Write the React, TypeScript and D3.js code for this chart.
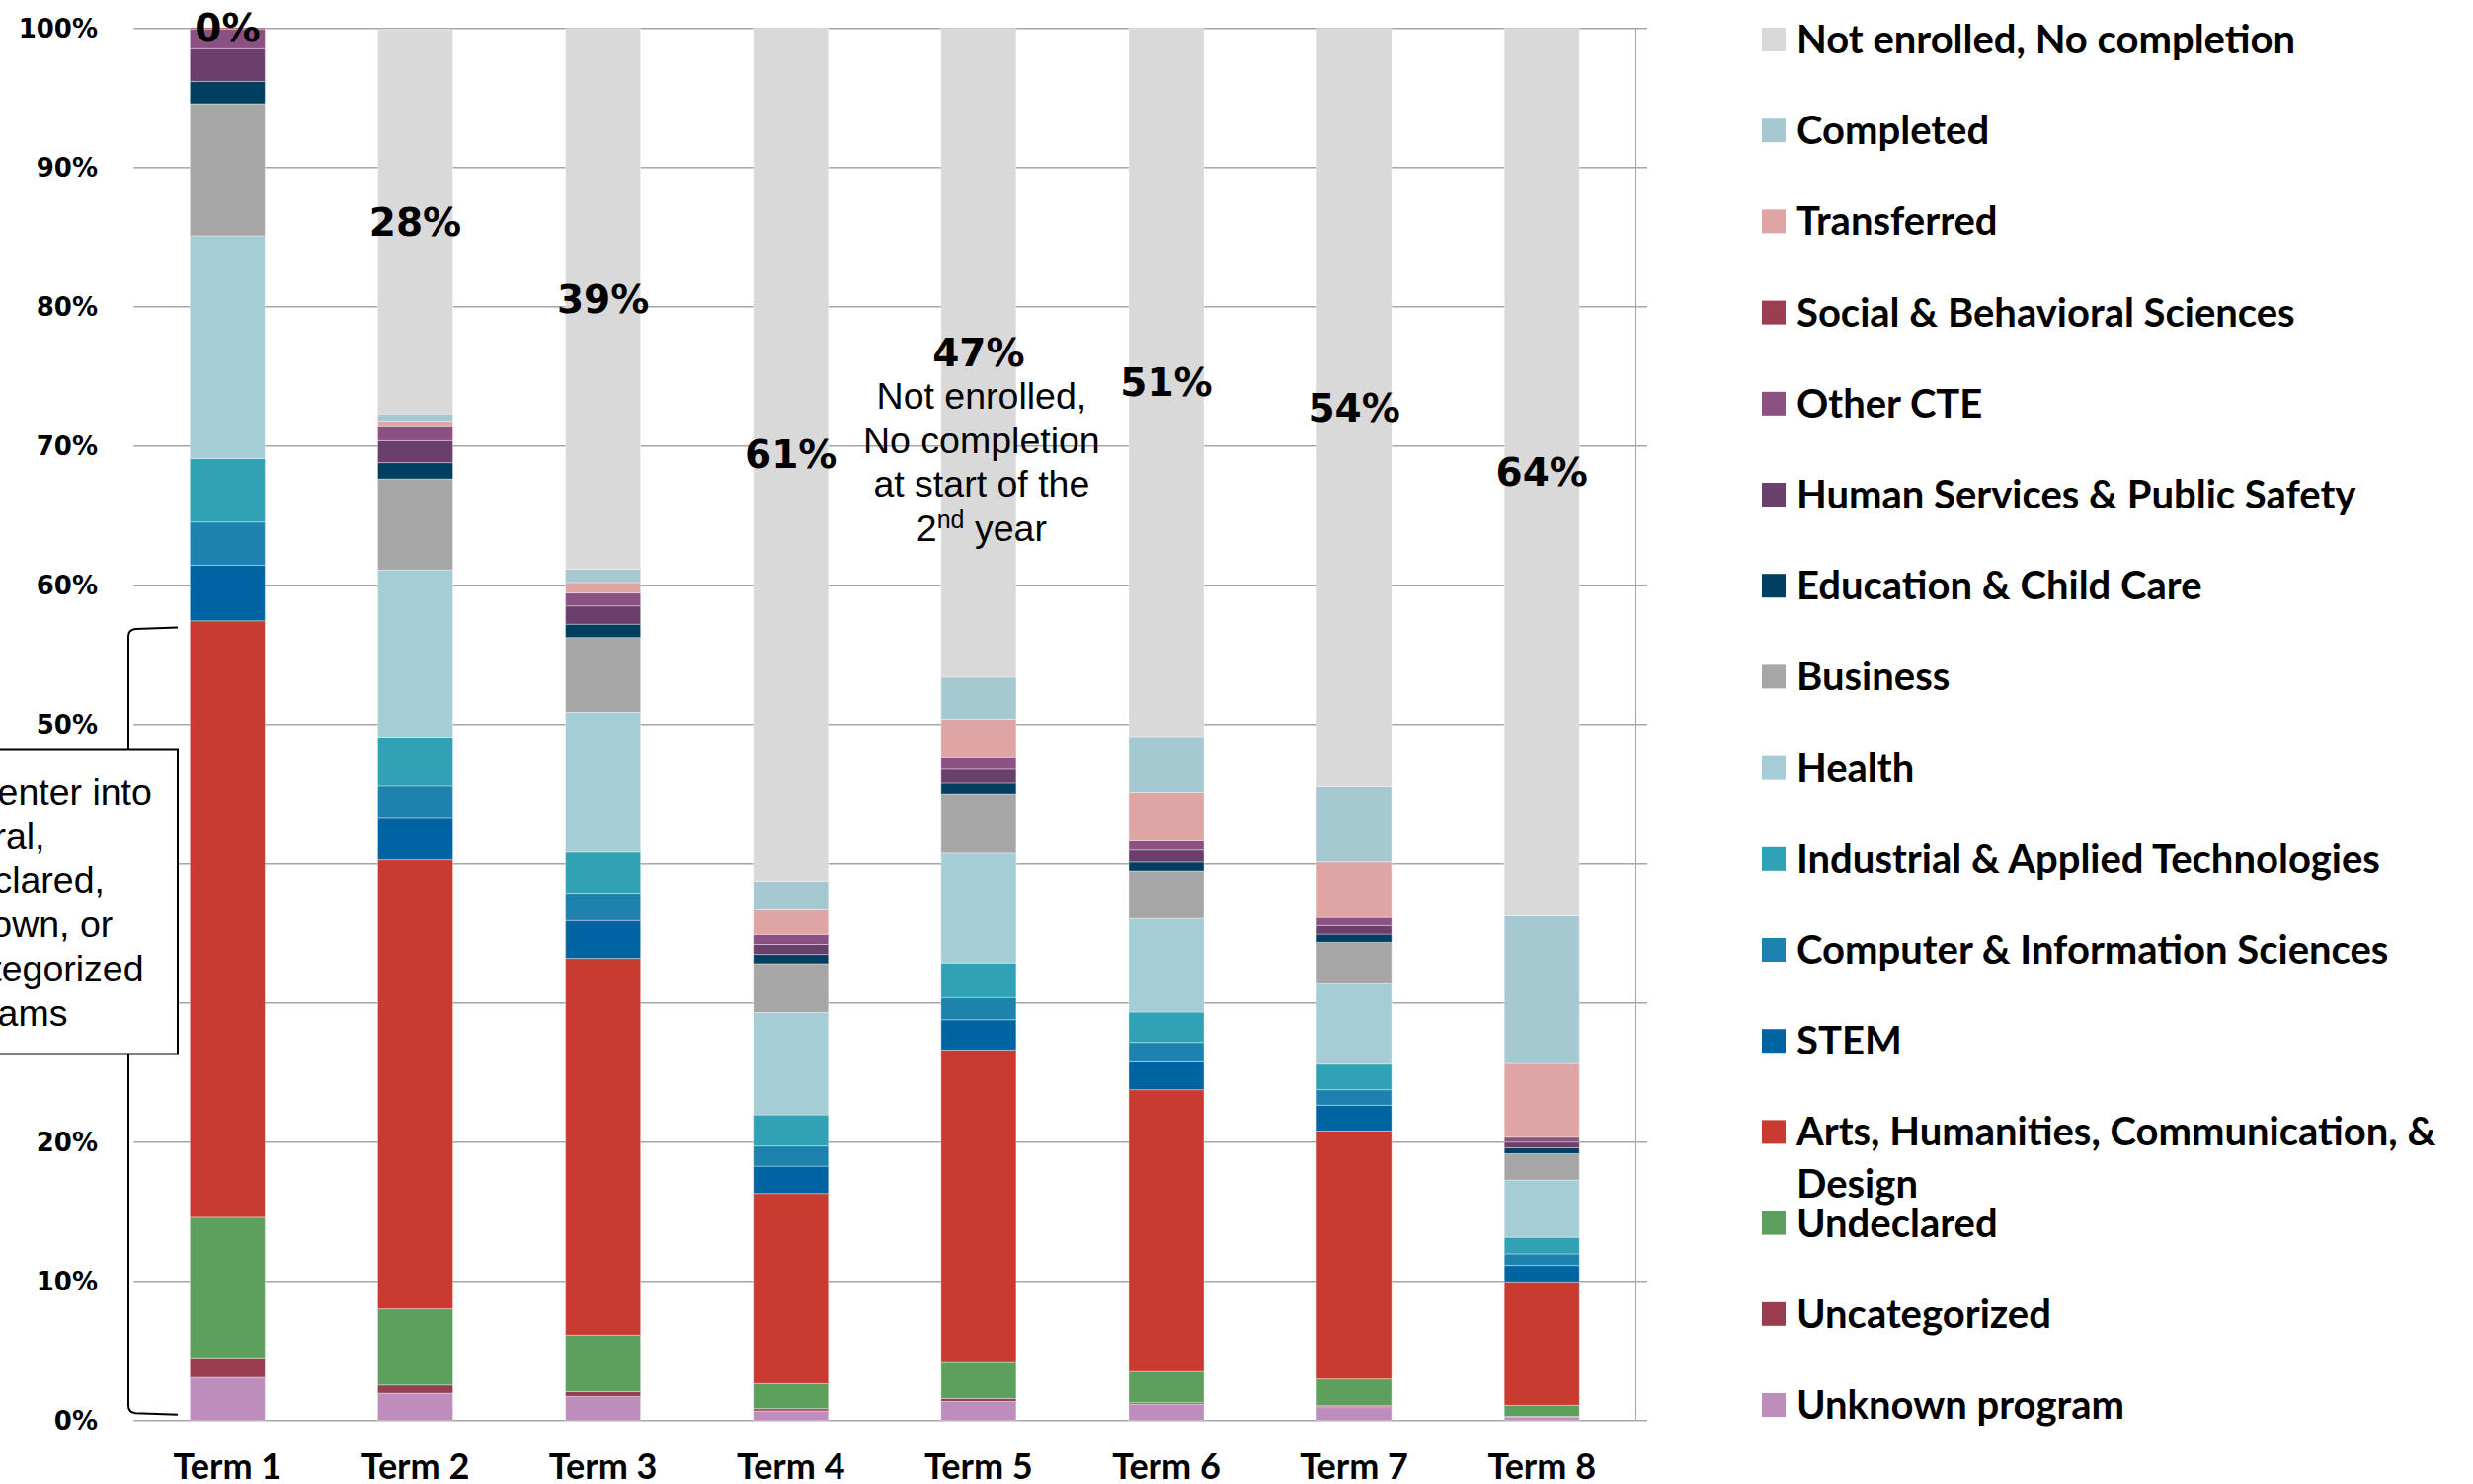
import React from "react";
import * as d3 from "d3";

// ---------- DATA (percent of cohort) ----------
const terms = ["Term 1", "Term 2", "Term 3", "Term 4", "Term 5", "Term 6", "Term 7", "Term 8"];

const unknownProgram = [3.1, 1.96, 1.72, 0.69, 1.37, 1.18, 0.99, 0.25];
const uncategorized = [1.4, 0.59, 0.35, 0.16, 0.21, 0.1, 0.07, 0.05];
const undeclared = [10.1, 5.47, 4.06, 1.8, 2.65, 2.24, 1.92, 0.79];
const arts = [42.84, 32.27, 27.07, 13.66, 22.39, 20.24, 17.82, 8.87];
const stem = [4.0, 3.03, 2.72, 1.96, 2.17, 2.01, 1.85, 1.18];
const computer = [3.1, 2.27, 1.96, 1.45, 1.6, 1.39, 1.11, 0.83];
const industrial = [4.55, 3.5, 2.96, 2.24, 2.48, 2.18, 1.84, 1.19];
const health = [16.0, 12.0, 10.03, 7.35, 7.9, 6.73, 5.76, 4.12];
const business = [9.5, 6.54, 5.37, 3.51, 4.24, 3.41, 2.99, 1.89];
const education = [1.6, 1.17, 0.96, 0.66, 0.79, 0.65, 0.59, 0.42];
const humanServices = [2.35, 1.58, 1.31, 0.72, 1.0, 0.86, 0.62, 0.41];
const otherCTE = [1.4, 1.07, 0.93, 0.72, 0.82, 0.66, 0.58, 0.35];
const socialBehavioral = [0.1, 0, 0, 0, 0, 0, 0, 0];
const transferred = [0, 0.34, 0.76, 1.76, 2.76, 3.48, 4.0, 5.3];
const completed = [0, 0.52, 0.96, 2.07, 3.01, 4.0, 5.42, 10.6];
const notEnrolled = [0, 27.6, 38.84, 61.27, 46.61, 50.9, 54.44, 63.75];

const yTicks = [0, 10, 20, 30, 40, 50, 60, 70, 80, 90, 100];

// series in stacking order (bottom -> top)
const seriesDefs = [
  { key: "unknownProgram", name: "Unknown program", color: "#BD8DBB", values: unknownProgram },
  { key: "uncategorized", name: "Uncategorized", color: "#9B3D50", values: uncategorized },
  { key: "undeclared", name: "Undeclared", color: "#5DA05E", values: undeclared },
  { key: "arts", name: "Arts, Humanities, Communication, &|Design", color: "#C93A31", values: arts },
  { key: "stem", name: "STEM", color: "#0064A2", values: stem },
  { key: "computer", name: "Computer & Information Sciences", color: "#1D82AD", values: computer },
  { key: "industrial", name: "Industrial & Applied Technologies", color: "#31A1B5", values: industrial },
  { key: "health", name: "Health", color: "#A4CDD6", values: health },
  { key: "business", name: "Business", color: "#A6A6A6", values: business },
  { key: "education", name: "Education & Child Care", color: "#003F5F", values: education },
  { key: "humanServices", name: "Human Services & Public Safety", color: "#6B3F6B", values: humanServices },
  { key: "otherCTE", name: "Other CTE", color: "#8A5182", values: otherCTE },
  { key: "socialBehavioral", name: "Social & Behavioral Sciences", color: "#9C3D50", values: socialBehavioral },
  { key: "transferred", name: "Transferred", color: "#DFA5A4", values: transferred },
  { key: "completed", name: "Completed", color: "#A6C8D1", values: completed },
  { key: "notEnrolled", name: "Not enrolled, No completion", color: "#D9D9D9", values: notEnrolled },
];

const annoLines = ["Not enrolled,", "No completion", "at start of the"];
const boxLines = ["Who enter into", "general,", "undeclared,", "unknown, or", "uncategorized", "programs"];
const bracketRange = [0.5, 56.9];

export default function App() {
  const W = 2504;
  const H = 1503;
  const x = d3
    .scaleBand<string>()
    .domain(terms)
    .range([135.3, 1656.3])
    .paddingInner(0.6)
    .paddingOuter(0.3);
  const y = d3.scaleLinear().domain([0, 100]).range([1438.7, 28.7]);

  const rows = terms.map((t, i) => {
    const r: any = { term: t };
    seriesDefs.forEach((s) => (r[s.key] = s.values[i]));
    return r;
  });
  const stacked = d3.stack<any>().keys(seriesDefs.map((s) => s.key))(rows);
  const neLayer = stacked[stacked.length - 1];

  const gridRight = 1668;
  const axisRight = 1656.3;
  const legendX = 1784;
  const legendY0 = 40;
  const legendStep = 92.2;
  const legendItems = seriesDefs.slice().reverse();

  const bw = x.bandwidth();
  const t5 = x("Term 5")! + bw / 2;

  const [bLo, bHi] = bracketRange;
  const yTop = y(bHi);
  const yBot = y(bLo);
  const bx = 130;
  const bracketPath = `M180,${yTop - 1} L137,${yTop + 0.5} Q${bx},${yTop + 1.5} ${bx},${yTop + 8} L${bx},${yBot - 8} Q${bx},${yBot - 1.5} 137,${yBot - 0.5} L180,${yBot + 1}`;

  return (
    <svg
      width={W}
      height={H}
      viewBox={`0 0 ${W} ${H}`}
      style={{ position: "absolute", left: 0, top: 0, background: "#fff" }}
    >
      <rect x={0} y={0} width={W} height={H} fill="#fff" />
      {/* gridlines */}
      {yTicks.map((t) => (
        <line key={t} x1={135.3} x2={gridRight} y1={y(t)} y2={y(t)} stroke="#A6A6A6" strokeWidth={1.5} />
      ))}
      <line x1={axisRight} x2={axisRight} y1={y(100)} y2={y(0)} stroke="#A6A6A6" strokeWidth={1.5} />

      {/* y labels */}
      {yTicks.map((t) => (
        <text
          key={t}
          x={99}
          y={y(t)}
          dy="0.36em"
          textAnchor="end"
          fontFamily="DejaVu Sans"
          fontWeight="bold"
          fontSize={26}
          fill="#000"
        >
          {t}%
        </text>
      ))}

      {/* bars */}
      {stacked.map((layer, li) => (
        <g key={layer.key} fill={seriesDefs[li].color}>
          {layer.map((d, i) => {
            const h = y(d[0]) - y(d[1]);
            if (h <= 0) return null;
            return (
              <rect
                key={i}
                x={x(terms[i])}
                y={y(d[1])}
                width={bw}
                height={h}
                stroke="#ffffff"
                strokeOpacity={0.35}
                strokeWidth={1}
              />
            );
          })}
        </g>
      ))}

      {/* x labels */}
      {terms.map((t) => (
        <text
          key={t}
          x={x(t)! + bw / 2}
          y={1498}
          textAnchor="middle"
          fontFamily="Lato"
          fontWeight="bold"
          fontSize={36}
          fill="#000"
        >
          {t}
        </text>
      ))}

      {/* not enrolled labels */}
      {neLayer.map((d, i) => (
        <text
          key={i}
          x={x(terms[i])! + bw / 2}
          y={y((d[0] + d[1]) / 2)}
          dy="0.36em"
          textAnchor="middle"
          fontFamily="DejaVu Sans"
          fontWeight="bold"
          fontSize={39}
          fill="#000"
        >
          {Math.round(notEnrolled[i])}%
        </text>
      ))}

      {/* annotation under 47% */}
      <g fontFamily="Liberation Sans, Arial, sans-serif" fontSize={37.5} fill="#000" textAnchor="middle">
        {annoLines.map((l, i) => (
          <text key={i} x={t5 + 3} y={414 + i * 44.7}>
            {l}
          </text>
        ))}
        <text x={t5 + 3} y={414 + 3 * 44.7}>
          2<tspan dy={-13} fontSize={25}>nd</tspan>
          <tspan dy={13}> year</tspan>
        </text>
      </g>

      {/* bracket */}
      <path d={bracketPath} fill="none" stroke="#000" strokeWidth={2} />
      {/* text box */}
      <rect x={-20} y={759.5} width={200} height={308} fill="#fff" stroke="#000" strokeWidth={2} />
      <g fontFamily="Liberation Sans, Arial, sans-serif" fontSize={37.5} fill="#000">
        {boxLines.map((l, i) => (
          <text key={i} x={-90} y={815 + i * 44.7}>
            {l}
          </text>
        ))}
      </g>

      {/* legend */}
      {legendItems.map((s, i) => {
        const cy = legendY0 + i * legendStep;
        const parts = s.name.split("|");
        return (
          <g key={s.key}>
            <rect x={legendX} y={cy - 12} width={24} height={24} fill={s.color} />
            {parts.map((p, j) => (
              <text
                key={j}
                x={1819}
                y={cy + 14 + j * 53}
                fontFamily="Lato"
                fontWeight="bold"
                fontSize={40}
                fill="#000"
              >
                {p}
              </text>
            ))}
          </g>
        );
      })}
    </svg>
  );
}
